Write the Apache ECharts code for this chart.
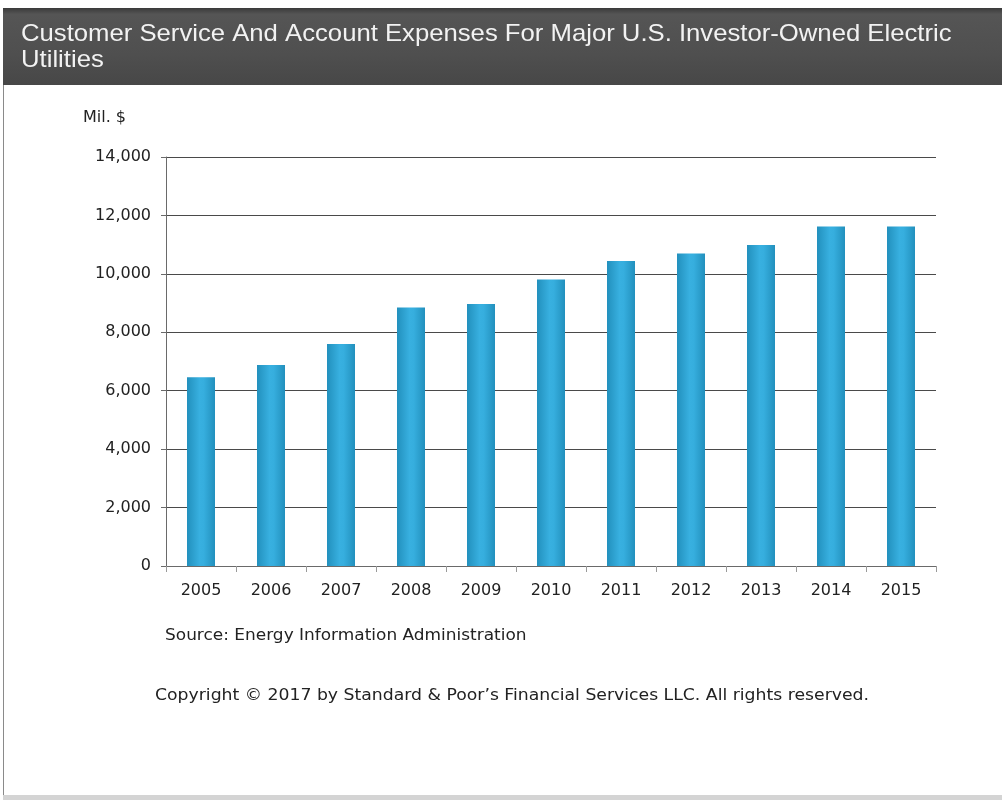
<!DOCTYPE html>
<html>
<head>
<meta charset="utf-8">
<script src="https://cdn.jsdelivr.net/npm/echarts@6/dist/echarts.min.js"></script>
<style>
  html, body { margin: 0; padding: 0; background: #ffffff; }
  #chart { width: 1002px; height: 800px; }
</style>
</head>
<body>
<div id="chart"></div>
<script>
// Customer service and account expenses, major U.S. investor-owned electric utilities (Mil. $)
const years = ['2005', '2006', '2007', '2008', '2009', '2010', '2011', '2012', '2013', '2014', '2015'];
const expenses = [6460, 6880, 7600, 8850, 8970, 9810, 10440, 10700, 10990, 11620, 11620];
const yTicks = { min: 0, max: 14000, interval: 2000 };

const titleText = 'Customer Service And Account Expenses For Major U.S. Investor-Owned Electric\nUtilities';
const unitText = 'Mil. $';
const sourceText = 'Source: Energy Information Administration';
const copyrightText = 'Copyright \u00A9 2017 by Standard & Poor\u2019s Financial Services LLC. All rights reserved.';

const chart = echarts.init(document.getElementById('chart'), null, { renderer: 'canvas' });

const barFill = new echarts.graphic.LinearGradient(0, 0, 1, 0, [
  { offset: 0, color: '#2290bd' },
  { offset: 0.45, color: '#38b0e0' },
  { offset: 0.6, color: '#36aede' },
  { offset: 1, color: '#2290bd' }
]);

chart.setOption({
  backgroundColor: '#ffffff',
  animation: false,
  grid: { left: 166, right: 66, top: 157, bottom: 234, containLabel: false },
  xAxis: {
    type: 'category',
    data: years,
    boundaryGap: true,
    axisLine: { show: true, lineStyle: { color: '#6a6a6a', width: 1 } },
    axisTick: { show: true, alignWithLabel: false, length: 6, lineStyle: { color: '#9a9a9a' } },
    axisLabel: { color: '#222222', fontFamily: 'DejaVu Sans', fontSize: 16, margin: 17 },
    splitLine: { show: false }
  },
  yAxis: {
    type: 'value',
    min: yTicks.min,
    max: yTicks.max,
    interval: yTicks.interval,
    axisLine: { show: true, lineStyle: { color: '#6a6a6a', width: 1 } },
    axisTick: { show: true, length: 5, lineStyle: { color: '#6a6a6a' } },
    axisLabel: {
      color: '#222222', fontFamily: 'DejaVu Sans', fontSize: 16, margin: 15,
      formatter: v => v.toLocaleString('en-US')
    },
    splitLine: { show: true, lineStyle: { color: '#4a4a4a', width: 1 } }
  },
  series: [{
    type: 'bar',
    data: expenses,
    barWidth: 28,
    itemStyle: { color: barFill }
  }],
  graphic: [
    // page frame
    { type: 'line', silent: true, shape: { x1: 3.5, y1: 84, x2: 3.5, y2: 800 }, style: { stroke: '#8a8a8a', lineWidth: 1 } },
    { type: 'rect', silent: true, shape: { x: 3, y: 795, width: 999, height: 5 }, style: { fill: '#d4d4d4' } },
    // header bar
    {
      type: 'rect', silent: true,
      shape: { x: 3, y: 8, width: 999, height: 77 },
      style: {
        fill: new echarts.graphic.LinearGradient(0, 0, 0, 1, [
          { offset: 0, color: '#3a3a3a' },
          { offset: 0.08, color: '#555555' },
          { offset: 0.6, color: '#4f4f4f' },
          { offset: 1, color: '#474747' }
        ])
      }
    },
    {
      type: 'text', silent: true, x: 21, y: 21, scaleX: 1.07,
      style: {
        text: titleText, fill: '#f2f2f2',
        font: '24px "Liberation Sans", Arial, sans-serif', lineHeight: 26
      }
    },
    {
      type: 'text', silent: true, x: 83, y: 110,
      style: { text: unitText, fill: '#222222', font: '16px "DejaVu Sans", sans-serif' }
    },
    {
      type: 'text', silent: true, x: 165, y: 629, scaleX: 1.13,
      style: { text: sourceText, fill: '#222222', font: '15px "DejaVu Sans", sans-serif' }
    },
    {
      type: 'text', silent: true, x: 155, y: 689, scaleX: 1.15,
      style: { text: copyrightText, fill: '#222222', font: '15px "DejaVu Sans", sans-serif' }
    }
  ]
});
</script>
</body>
</html>
